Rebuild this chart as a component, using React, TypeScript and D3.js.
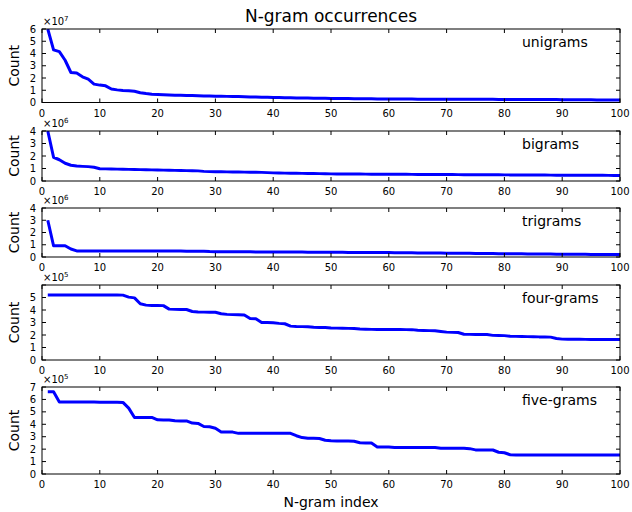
import React from "react";
import * as d3 from "d3";

const panelNames = ["unigrams", "bigrams", "trigrams", "four-grams", "five-grams"];
const panelExponents = [7, 6, 6, 5, 5];
const panelYMax = [6, 4, 4, 6, 7];
const panelYLabelMax = [6, 4, 4, 5, 7];
const xTicks = [0, 10, 20, 30, 40, 50, 60, 70, 80, 90, 100];

// values in units of 10^exponent, index 1..100
const unigrams = [
  6.0, 4.3, 4.15, 3.45, 2.45, 2.4, 2.1, 1.9, 1.5, 1.42,
  1.36, 1.1, 1.03, 0.98, 0.95, 0.92, 0.8, 0.73, 0.68, 0.65,
  0.63, 0.61, 0.6, 0.59, 0.58, 0.57, 0.55, 0.54, 0.53, 0.52,
  0.51, 0.5, 0.49, 0.48, 0.46, 0.45, 0.44, 0.42, 0.42, 0.41,
  0.4, 0.39, 0.38, 0.37, 0.37, 0.36, 0.35, 0.34, 0.34, 0.33,
  0.33, 0.32, 0.32, 0.31, 0.31, 0.3, 0.3, 0.29, 0.29, 0.28,
  0.28, 0.28, 0.28, 0.28, 0.27, 0.27, 0.27, 0.27, 0.27, 0.27,
  0.27, 0.27, 0.26, 0.26, 0.26, 0.26, 0.26, 0.26, 0.25, 0.25,
  0.25, 0.25, 0.25, 0.25, 0.25, 0.24, 0.24, 0.24, 0.24, 0.23,
  0.23, 0.23, 0.22, 0.22, 0.22, 0.21, 0.21, 0.21, 0.2, 0.2,
];
const bigrams = [
  4.0, 1.9, 1.7, 1.42, 1.26, 1.2, 1.17, 1.15, 1.1, 0.98,
  0.97, 0.96, 0.95, 0.94, 0.93, 0.92, 0.91, 0.9, 0.89, 0.88,
  0.87, 0.86, 0.85, 0.84, 0.83, 0.82, 0.81, 0.77, 0.75, 0.74,
  0.74, 0.73, 0.72, 0.72, 0.71, 0.71, 0.7, 0.69, 0.67, 0.65,
  0.64, 0.63, 0.62, 0.62, 0.61, 0.6, 0.6, 0.59, 0.58, 0.57,
  0.57, 0.57, 0.56, 0.56, 0.56, 0.55, 0.55, 0.55, 0.55, 0.54,
  0.54, 0.54, 0.54, 0.53, 0.53, 0.53, 0.53, 0.52, 0.52, 0.52,
  0.52, 0.51, 0.51, 0.51, 0.51, 0.5, 0.5, 0.5, 0.5, 0.49,
  0.49, 0.49, 0.49, 0.48, 0.48, 0.48, 0.48, 0.47, 0.47, 0.47,
  0.47, 0.47, 0.46, 0.46, 0.46, 0.46, 0.46, 0.45, 0.45, 0.45,
];
const trigrams = [
  3.0, 0.92, 0.92, 0.92, 0.65, 0.5, 0.5, 0.5, 0.5, 0.5,
  0.5, 0.5, 0.5, 0.5, 0.5, 0.49, 0.49, 0.49, 0.49, 0.49,
  0.49, 0.49, 0.49, 0.49, 0.47, 0.47, 0.47, 0.47, 0.44, 0.43,
  0.43, 0.43, 0.42, 0.42, 0.42, 0.42, 0.41, 0.41, 0.41, 0.41,
  0.41, 0.4, 0.4, 0.4, 0.4, 0.39, 0.39, 0.39, 0.38, 0.38,
  0.38, 0.38, 0.37, 0.37, 0.37, 0.37, 0.36, 0.36, 0.36, 0.36,
  0.35, 0.35, 0.34, 0.34, 0.33, 0.33, 0.33, 0.32, 0.32, 0.31,
  0.31, 0.31, 0.3, 0.3, 0.29, 0.29, 0.28, 0.28, 0.27, 0.27,
  0.26, 0.26, 0.26, 0.25, 0.25, 0.25, 0.24, 0.24, 0.23, 0.23,
  0.23, 0.22, 0.22, 0.22, 0.21, 0.21, 0.21, 0.2, 0.2, 0.2,
];
const fourgrams = [
  5.21, 5.21, 5.21, 5.21, 5.21, 5.21, 5.21, 5.21, 5.21, 5.2,
  5.2, 5.2, 5.2, 5.19, 5.03, 4.97, 4.5, 4.39, 4.36, 4.36,
  4.35, 4.07, 4.05, 4.04, 4.04, 3.88, 3.84, 3.83, 3.83, 3.82,
  3.7, 3.65, 3.63, 3.62, 3.6, 3.32, 3.3, 3.0, 3.0, 2.98,
  2.93, 2.9, 2.71, 2.68, 2.67, 2.66, 2.62, 2.6, 2.6, 2.56,
  2.55, 2.54, 2.53, 2.52, 2.48, 2.46, 2.45, 2.45, 2.45, 2.44,
  2.44, 2.44, 2.43, 2.43, 2.38, 2.36, 2.35, 2.34, 2.28, 2.23,
  2.21, 2.2, 2.06, 2.05, 2.05, 2.04, 2.04, 1.97, 1.96, 1.95,
  1.9, 1.89, 1.88, 1.87, 1.87, 1.85, 1.85, 1.83, 1.72, 1.67,
  1.66, 1.66, 1.66, 1.65, 1.65, 1.65, 1.65, 1.64, 1.64, 1.64,
];
const fivegrams = [
  6.62, 6.62, 5.8, 5.8, 5.8, 5.8, 5.8, 5.79, 5.79, 5.78,
  5.78, 5.77, 5.77, 5.76, 5.3, 4.55, 4.55, 4.55, 4.55, 4.36,
  4.35, 4.34, 4.28, 4.27, 4.27, 4.1, 4.07, 3.82, 3.8, 3.68,
  3.38, 3.38, 3.37, 3.27, 3.27, 3.27, 3.27, 3.27, 3.27, 3.27,
  3.27, 3.27, 3.27, 3.08, 2.93, 2.87, 2.87, 2.86, 2.72, 2.67,
  2.66, 2.66, 2.65, 2.64, 2.52, 2.5, 2.49, 2.18, 2.17, 2.17,
  2.14, 2.13, 2.13, 2.13, 2.13, 2.13, 2.13, 2.13, 2.08, 2.08,
  2.08, 2.08, 2.08, 2.04, 1.94, 1.94, 1.94, 1.93, 1.75, 1.71,
  1.55, 1.53, 1.53, 1.53, 1.53, 1.53, 1.53, 1.53, 1.53, 1.53,
  1.53, 1.53, 1.53, 1.53, 1.53, 1.53, 1.53, 1.53, 1.53, 1.53,
];
const seriesList = [unigrams, bigrams, trigrams, fourgrams, fivegrams];

const W = 632;
const H = 512;
const LEFT = 42;
const RIGHT = 620;
const tops = [29, 131, 208, 285, 387];
const bottoms = [102.5, 181, 257, 360, 474];
const FONT = "DejaVu Sans, sans-serif";

export default function App() {
  const x = d3.scaleLinear().domain([0, 100]).range([LEFT, RIGHT]);
  return (
    <svg
      width={W}
      height={H}
      style={{ position: "absolute", left: 0, top: 0, background: "#fff" }}
      fontFamily={FONT}
    >
      <rect x={0} y={0} width={W} height={H} fill="#fff" />
      <text x={(LEFT + RIGHT) / 2} y={22} textAnchor="middle" fontSize={17}>
        N-gram occurrences
      </text>
      {seriesList.map((vals, p) => {
        const top = tops[p];
        const bottom = bottoms[p];
        const y = d3.scaleLinear().domain([0, panelYMax[p]]).range([bottom, top]);
        const line = d3
          .line<number>()
          .x((_, i) => x(i + 1))
          .y((d) => y(d));
        const yTicks = d3.range(0, panelYMax[p] + 1);
        const yLabels = d3.range(0, panelYLabelMax[p] + 1);
        const clipId = `clip${p}`;
        return (
          <g key={p}>
            <defs>
              <clipPath id={clipId}>
                <rect x={LEFT} y={top} width={RIGHT - LEFT} height={bottom - top} />
              </clipPath>
            </defs>
            <path
              d={line(vals) || ""}
              fill="none"
              stroke="#0000ff"
              strokeWidth={3}
              strokeLinejoin="round"
              clipPath={`url(#${clipId})`}
            />
            {xTicks.map((t) => (
              <g key={"x" + t}>
                <line x1={x(t)} x2={x(t)} y1={bottom} y2={bottom - 4} stroke="#000" />
                <line x1={x(t)} x2={x(t)} y1={top} y2={top + 4} stroke="#000" />
                <text x={x(t)} y={bottom + 14} textAnchor="middle" fontSize={10}>
                  {t}
                </text>
              </g>
            ))}
            {yTicks.map((t) => (
              <g key={"y" + t}>
                <line x1={LEFT} x2={LEFT + 4} y1={y(t)} y2={y(t)} stroke="#000" />
                <line x1={RIGHT} x2={RIGHT - 4} y1={y(t)} y2={y(t)} stroke="#000" />
              </g>
            ))}
            {yLabels.map((t) => (
              <text
                key={"yl" + t}
                x={36}
                y={y(t)}
                dy="0.36em"
                textAnchor="end"
                fontSize={10}
              >
                {t}
              </text>
            ))}
            <rect
              x={LEFT}
              y={top}
              width={RIGHT - LEFT}
              height={bottom - top}
              fill="none"
              stroke="#000"
              strokeWidth={1}
            />
            <text x={LEFT + 1} y={top - 4} fontSize={10}>
              ×10
              <tspan fontSize={7} dy={-4}>
                {panelExponents[p]}
              </tspan>
            </text>
            <text
              transform={`translate(${19},${(top + bottom) / 2}) rotate(-90)`}
              textAnchor="middle"
              fontSize={14}
            >
              Count
            </text>
            <text x={522} y={top + 18} fontSize={14}>
              {panelNames[p]}
            </text>
          </g>
        );
      })}
      <text x={(LEFT + RIGHT) / 2} y={507} textAnchor="middle" fontSize={14}>
        N-gram index
      </text>
    </svg>
  );
}
